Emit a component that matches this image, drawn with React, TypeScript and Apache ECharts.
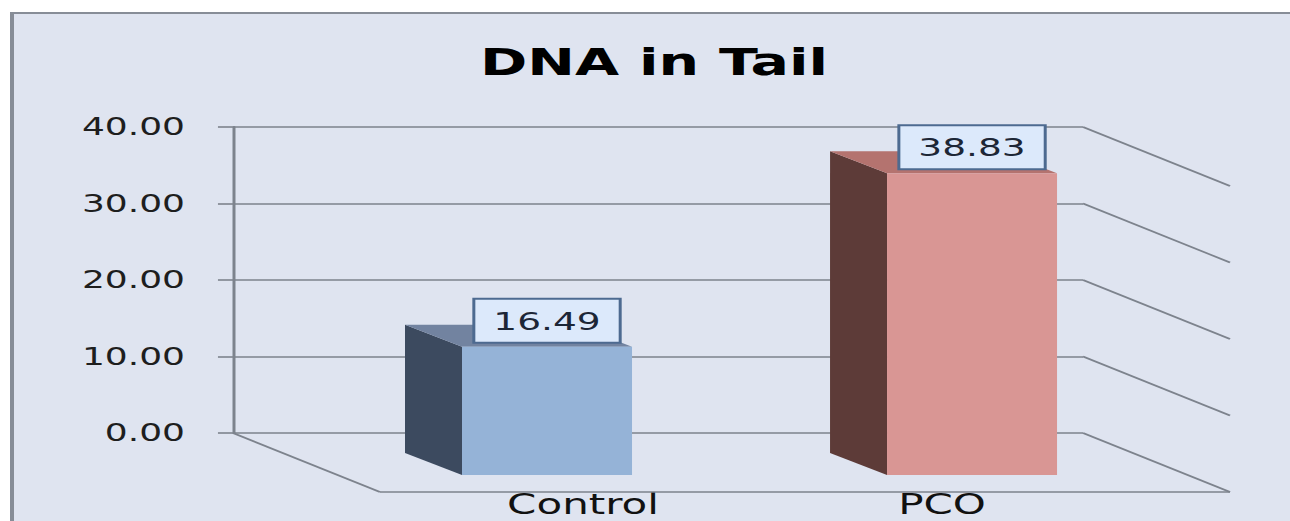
import React, { useEffect, useRef } from "react";
import * as echarts from "echarts";

const titleText = "DNA in Tail";
const categories = ["Control", "PCO"];
const values = [16.49, 38.83];
const yTicks = [0, 10, 20, 30, 40];
const frontColors = ["#95b3d7", "#d99694"];
const sideColors = ["#3c4a5f", "#5d3b38"];
const topColors = ["#7283a0", "#b4736f"];

const SX = 1.5; // horizontal stretch of the whole picture
const W = 860; // internal width (1290 / 1.5)
const H = 521;
const DX = 98; // floor depth (internal px)
const DY = 59;
const BDX = 38; // bar depth
const BDY = 22;
const FONT = "DejaVu Sans";
const lineColor = "#7d838d";

export default function App() {
  const ref = useRef<HTMLDivElement>(null);
  useEffect(() => {
    const chart = echarts.init(ref.current!, null, { renderer: "svg" });
    const lineStyle = { stroke: lineColor, lineWidth: 1.6 };
    chart.setOption({
      animation: false,
      textStyle: { fontFamily: FONT },
      title: {
        text: titleText,
        left: 320,
        top: 43,
        padding: 0,
        textStyle: { fontFamily: FONT, fontSize: 38, fontWeight: "bold", color: "#000" },
      },
      grid: [
        { left: 155.3, right: 138, top: 127, bottom: 88 },
        { left: 223, right: 70.3, top: 164.2, bottom: 46 },
        { left: 269, right: 112.3, top: 440, bottom: 32 },
      ],
      xAxis: [
        { gridIndex: 0, type: "value", min: 0, max: 1, show: false },
        { gridIndex: 1, type: "category", data: categories, show: false },
        {
          gridIndex: 2,
          type: "category",
          data: categories,
          axisLine: { show: false },
          axisTick: { show: false },
          axisLabel: { margin: 0, fontSize: 28, color: "#111", fontFamily: FONT, lineHeight: 30 },
        },
      ],
      yAxis: [
        {
          gridIndex: 0,
          type: "value",
          min: 0,
          max: 40,
          interval: 10,
          axisLine: { show: true, lineStyle: { color: lineColor, width: 2 } },
          axisTick: { show: true, length: 10, lineStyle: { color: lineColor, width: 1.6 } },
          splitLine: { show: true, lineStyle: { color: lineColor, width: 1.6 } },
          axisLabel: {
            margin: 32,
            fontSize: 24,
            color: "#1e1e1e",
            fontFamily: FONT,
            formatter: (v: number) => v.toFixed(2),
          },
        },
        { gridIndex: 1, type: "value", min: 0, max: 40, show: false, splitLine: { show: false } },
        { gridIndex: 2, type: "value", show: false, splitLine: { show: false } },
      ],
      series: [
        {
          type: "custom",
          xAxisIndex: 0,
          yAxisIndex: 0,
          silent: true,
          data: yTicks.map((v) => [1, v]),
          renderItem: (params: any, api: any) => {
            const v = api.value(1);
            const p = api.coord([1, v]);
            const children: any[] = [
              { type: "line", shape: { x1: p[0], y1: p[1], x2: p[0] + DX, y2: p[1] + DY }, style: lineStyle },
            ];
            if (v === 0) {
              const q = api.coord([0, 0]);
              children.push({
                type: "line",
                shape: { x1: q[0], y1: q[1], x2: q[0] + DX, y2: q[1] + DY },
                style: lineStyle,
              });
              children.push({
                type: "line",
                shape: { x1: q[0] + DX, y1: q[1] + DY, x2: p[0] + DX, y2: p[1] + DY },
                style: lineStyle,
              });
            }
            return { type: "group", children };
          },
        },
        {
          type: "custom",
          xAxisIndex: 1,
          yAxisIndex: 1,
          silent: true,
          data: values.map((v, i) => [i, v]),
          renderItem: (params: any, api: any) => {
            const i = params.dataIndex;
            const top = api.coord([api.value(0), api.value(1)]);
            const base = api.coord([api.value(0), 0]);
            const bw = api.size([1, 0])[0] * 0.4;
            const x0 = top[0] - bw / 2;
            const x1 = top[0] + bw / 2;
            return {
              type: "group",
              children: [
                {
                  type: "polygon",
                  shape: {
                    points: [
                      [x0, top[1]],
                      [x0, base[1]],
                      [x0 - BDX, base[1] - BDY],
                      [x0 - BDX, top[1] - BDY],
                    ],
                  },
                  style: { fill: sideColors[i] },
                },
                {
                  type: "polygon",
                  shape: {
                    points: [
                      [x0, top[1]],
                      [x1, top[1]],
                      [x1 - BDX, top[1] - BDY],
                      [x0 - BDX, top[1] - BDY],
                    ],
                  },
                  style: { fill: topColors[i] },
                },
              ],
            };
          },
        },
        {
          type: "bar",
          xAxisIndex: 1,
          yAxisIndex: 1,
          barWidth: "40%",
          data: values.map((v, i) => ({ value: v, itemStyle: { color: frontColors[i] } })),
          label: {
            show: true,
            position: "top",
            distance: 5,
            formatter: (p: any) => Number(p.value).toFixed(2),
            fontSize: 25,
            lineHeight: 28,
            fontFamily: FONT,
            color: "#1c2636",
            backgroundColor: "#dce9fb",
            borderColor: "#4d6a90",
            borderWidth: 2,
            padding: [7, 12],
          },
        },
      ],
    });
    return () => chart.dispose();
  }, []);
  return (
    <div
      style={{
        position: "fixed",
        left: 0,
        top: 0,
        width: 1290,
        height: 521,
        overflow: "hidden",
        background: "#fff",
      }}
    >
      <div
        style={{
          position: "absolute",
          left: 10,
          top: 12,
          width: 1300,
          height: 530,
          background: "#dfe4f0",
          borderTop: "2px solid #878d97",
          borderLeft: "4px solid #878d97",
        }}
      />
      <div
        ref={ref}
        style={{
          position: "absolute",
          left: 0,
          top: 0,
          width: W,
          height: H,
          transform: `scaleX(${SX})`,
          transformOrigin: "0 0",
        }}
      />
    </div>
  );
}
